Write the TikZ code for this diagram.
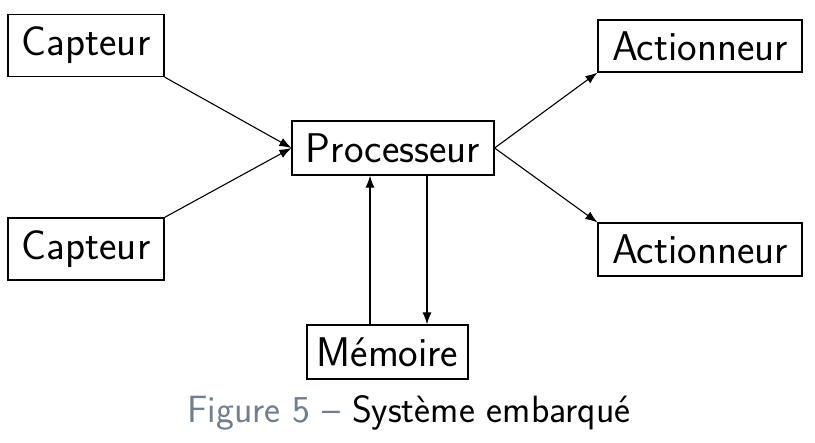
\documentclass[tikz,border=0pt]{standalone}
\usetikzlibrary{arrows.meta}
\definecolor{capgray}{RGB}{112,126,142}
\begin{document}
\begin{tikzpicture}[x=1pt,y=-1pt,
  box/.style={draw, line width=1.2pt, inner sep=0pt, font=\sffamily\fontsize{41.5}{45}\selectfont},
  arr/.style={line width=1.1pt, -{Latex[length=12pt,width=9pt]}}]
\useasboundingbox (0,0) rectangle (815,443);
\node[box, minimum width=156pt, minimum height=62pt] (c1) at (86,45.5) {Capteur};
\node[box, minimum width=156pt, minimum height=62pt] (c2) at (86,249) {Capteur};
\node[box, minimum width=202pt, minimum height=54pt] (p) at (393,148) {Processeur};
\node[box, minimum width=204pt, minimum height=52pt] (a1) at (700,46) {Actionneur};
\node[box, minimum width=204pt, minimum height=53pt] (a2) at (700,249.5) {Actionneur};
\node[box, minimum width=161pt, minimum height=54pt] (m) at (387.5,352) {Mémoire};
\coordinate (xu) at (370,0);
\coordinate (xd) at (427,0);
\draw[arr] (c1.south east) -- (p.west);
\draw[arr] (c2.north east) -- (p.west);
\draw[arr] (p.east) -- (a1.south west);
\draw[arr] (p.east) -- (a2.north west);
\draw[arr] (m.north -| xu) -- (p.south -| xu);
\draw[arr] (p.south -| xd) -- (m.north -| xd);
\node[font=\sffamily\fontsize{38}{42}\selectfont, inner sep=0pt] (cap) at (409,413) {\textcolor{capgray}{Figure 5 –} Système embarqué};
\end{tikzpicture}
\end{document}
